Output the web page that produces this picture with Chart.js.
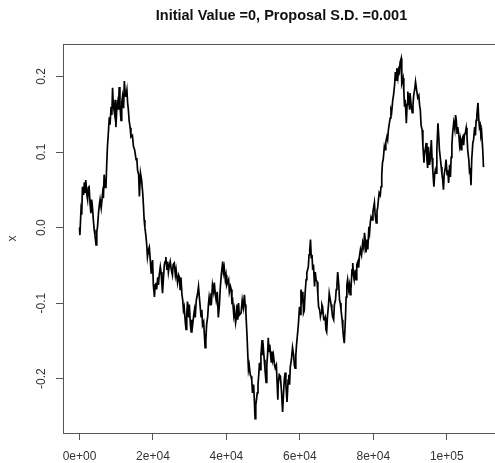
<!DOCTYPE html>
<html>
<head>
<meta charset="utf-8">
<script src="https://cdn.jsdelivr.net/npm/chart.js@4.4.1/dist/chart.umd.min.js"></script>
<style>
  html, body { margin: 0; padding: 0; background: #fff; overflow: hidden; }
  #wrap { width: 500px; height: 463px; }
</style>
</head>
<body>
<div id="wrap"><canvas id="traceChart" width="500" height="463"></canvas></div>
<script>
// trace of the sampler (iteration, value)
var iterations = [
  0,100,400,600,800,1100,1300,1500,1700,2000,2200,2400,2600,2900,3100,3300,3500,3800,4000,4200,4500,4700,4900,5200,5400,5600,5900,6300,6500,6700,7000,7200,7400,7600,7900,8100,8300,8600,8800,9000,9200,9500,9700,9900,10100,10400,10600,10800,11000,11300,11500,11700,12000,12200,12400,12600,12900,13100,13300,13500,13800,14000,14400,14700,15000,15400,15600,15800,16100,16300,16600,16900,17200,17400,17600,17800,18100,18300,18500,18800,19000,19300,19500,19700,19900,20100,
  20400,20600,20800,21000,21300,21500,21700,22000,22200,22400,22600,22900,23100,23300,23500,23800,24000,24200,24400,24700,25000,25300,25500,25800,26100,26300,26700,27000,27200,27400,27600,27900,28100,28300,28500,28800,29000,29200,29400,29700,29900,30200,30400,30600,30800,31100,31300,31500,31800,32100,32400,32700,33100,33300,33500,33800,34000,34200,34400,34600,34900,35100,35300,35600,35800,36000,36200,36500,36700,37000,37200,37500,37800,38100,38300,38600,39000,39200,39400,39700,39900,40100,40300,40600,40800,41100,41300,41500,41700,42000,42200,42500,42700,42900,43100,43300,43500,
  44000,44300,44600,44900,45100,45300,45600,45800,46000,46200,46500,46700,46900,47100,47400,47600,47800,48000,48400,48600,48800,49000,49200,49400,49700,49900,50100,50300,50500,50800,51000,51200,51400,51600,51800,52200,52400,52600,52800,53100,53300,53600,54000,54100,54400,54700,55000,55300,55600,55800,56000,56200,56500,56800,57000,57200,57400,57700,58000,58300,58500,58700,58900,59100,59400,59600,59900,60100,60300,60500,60800,61000,61200,61400,61700,61900,62100,62300,62500,62700,62900,63100,63300,63500,63700,64000,64200,64400,64700,64900,65100,
  65400,65600,65800,66000,66200,66500,66700,66900,67100,67300,67500,67800,68000,68200,68500,68700,68900,69200,69400,69700,69900,70100,70300,70600,70800,71000,71200,71500,71700,71900,72100,72400,72600,72800,73000,73300,73500,73700,73900,74200,74400,74600,74800,75100,75300,75500,75800,76000,76200,76500,76800,77100,77400,77600,77800,78000,78300,78500,78800,79000,79200,79400,79700,79900,80100,80300,80500,80800,81000,81200,81400,81600,81900,82100,82300,82500,82700,83000,83200,83400,83700,83900,84100,84300,84600,84800,85000,85300,85500,85800,86000,86200,86400,86700,86900,87100,
  87300,87600,87700,87800,88100,88300,88500,88700,89000,89200,89400,89600,89900,90000,90300,90600,90800,91000,91300,91500,91800,92100,92400,92600,92800,93000,93300,93500,93800,93900,94200,94400,94600,94800,95000,95300,95500,95800,96000,96200,96500,96700,96900,97100,97300,97600,97800,98000,98300,98500,98700,98900,99100,99300,99600,99800,100100,100300,100500,100800,101000,101200,101400,101600,101900,102200,102400,102600,102800,103000,103300,103500,103700,103900,104100,104400,104600,104800,105100,105300,105500,105700,106000,106200,106400,106600,106800,107100,107300,107600,107800,108000,108200,108500,108700,108900,109100,109300,109500,109800,110000
];
var xValues = [
  0,-0.010,0.023,0.017,0.054,0.043,0.060,0.047,0.063,0.043,0.037,0.053,0.054,0.030,0.019,0.037,0.028,0.008,-0.003,-0.010,-0.023,-0.006,0.001,0.021,0.030,0.037,0.026,0.046,0.039,0.070,0.053,0.054,0.083,0.107,0.129,0.146,0.136,0.160,0.149,0.185,0.162,0.152,0.169,0.133,0.153,0.165,0.156,0.186,0.162,0.142,0.165,0.173,0.158,0.194,0.180,0.173,0.182,0.165,0.156,0.142,0.132,0.120,0.122,0.107,0.103,0.090,0.092,0.076,0.070,0.041,0.072,0.063,0.046,0.030,0.010,0.000,-0.012,-0.023,-0.039,-0.029,-0.026,-0.045,-0.060,-0.049,-0.043,-0.076,
  -0.092,-0.076,-0.073,-0.082,-0.066,-0.076,-0.063,-0.052,-0.059,-0.073,-0.087,-0.063,-0.049,-0.045,-0.039,-0.056,-0.045,-0.059,-0.052,-0.045,-0.056,-0.063,-0.049,-0.047,-0.063,-0.056,-0.073,-0.063,-0.066,-0.082,-0.066,-0.089,-0.096,-0.109,-0.105,-0.125,-0.135,-0.116,-0.098,-0.119,-0.102,-0.129,-0.138,-0.122,-0.129,-0.116,-0.109,-0.119,-0.096,-0.089,-0.078,-0.096,-0.118,-0.109,-0.129,-0.125,-0.142,-0.159,-0.149,-0.129,-0.118,-0.102,-0.092,-0.102,-0.087,-0.093,-0.076,-0.085,-0.073,-0.089,-0.096,-0.085,-0.119,-0.102,-0.082,-0.063,-0.045,-0.059,-0.053,-0.069,-0.063,-0.076,-0.073,-0.069,-0.085,-0.078,-0.082,-0.098,-0.096,-0.116,-0.109,-0.126,-0.119,-0.102,-0.122,-0.100,-0.116,
  -0.113,-0.096,-0.106,-0.089,-0.102,-0.113,-0.142,-0.166,-0.188,-0.182,-0.195,-0.197,-0.202,-0.219,-0.208,-0.228,-0.253,-0.235,-0.219,-0.208,-0.195,-0.179,-0.188,-0.169,-0.149,-0.169,-0.162,-0.175,-0.188,-0.205,-0.182,-0.169,-0.146,-0.164,-0.155,-0.178,-0.164,-0.175,-0.169,-0.182,-0.186,-0.182,-0.228,-0.208,-0.195,-0.197,-0.217,-0.244,-0.215,-0.199,-0.192,-0.208,-0.231,-0.202,-0.195,-0.208,-0.184,-0.175,-0.159,-0.169,-0.182,-0.186,-0.169,-0.155,-0.139,-0.128,-0.105,-0.115,-0.082,-0.096,-0.085,-0.113,-0.110,-0.089,-0.069,-0.060,-0.056,-0.052,-0.036,-0.029,-0.016,-0.040,-0.036,-0.056,-0.049,-0.078,-0.059,-0.069,-0.072,-0.089,-0.105,
  -0.109,-0.118,-0.113,-0.102,-0.105,-0.122,-0.122,-0.119,-0.135,-0.138,-0.119,-0.102,-0.087,-0.087,-0.102,-0.109,-0.118,-0.122,-0.102,-0.096,-0.082,-0.076,-0.059,-0.076,-0.096,-0.100,-0.109,-0.122,-0.135,-0.146,-0.153,-0.122,-0.092,-0.076,-0.069,-0.082,-0.076,-0.089,-0.082,-0.056,-0.047,-0.063,-0.069,-0.056,-0.069,-0.049,-0.045,-0.053,-0.039,-0.029,-0.036,-0.020,-0.027,-0.007,-0.016,-0.033,-0.016,-0.029,0.001,-0.006,0.008,0.014,0.010,0.021,0.027,0.033,0.017,0.006,0.021,0.027,0.037,0.046,0.043,0.054,0.070,0.086,0.090,0.107,0.103,0.113,0.120,0.116,0.129,0.136,0.145,0.156,0.153,0.169,0.175,0.189,0.206,0.195,0.211,0.199,0.209,0.206,
  0.219,0.224,0.209,0.191,0.198,0.182,0.160,0.169,0.138,0.163,0.180,0.169,0.156,0.178,0.162,0.152,0.162,0.175,0.184,0.193,0.182,0.172,0.175,0.162,0.156,0.136,0.129,0.109,0.086,0.096,0.105,0.112,0.090,0.079,0.107,0.083,0.090,0.116,0.092,0.076,0.054,0.070,0.076,0.072,0.103,0.138,0.122,0.103,0.090,0.080,0.070,0.063,0.050,0.070,0.079,0.090,0.070,0.076,0.059,0.083,0.067,0.093,0.109,0.125,0.139,0.130,0.149,0.142,0.125,0.133,0.122,0.109,0.116,0.103,0.116,0.120,0.109,0.122,0.126,0.132,0.122,0.103,0.090,0.074,0.076,0.056,0.090,0.112,0.116,0.133,0.122,0.142,0.149,0.165,0.145,0.133,0.136,0.122,0.126,0.103,0.080
];

var xTicks = [0, 20000, 40000, 60000, 80000, 100000];
var xTickLabels = ['0e+00', '2e+04', '4e+04', '6e+04', '8e+04', '1e+05'];
var yTicks = [-0.2, -0.1, 0, 0.1, 0.2];
var yTickLabels = ['-0.2', '-0.1', '0.0', '0.1', '0.2'];
var titleText = 'Initial Value =0, Proposal S.D. =0.001';

var points = iterations.map(function(it, i){ return {x: it, y: xValues[i]}; });
var tickFont = {family: '"Liberation Sans", Arial, sans-serif', size: 12};

// R style title over the plot region and the box around it
var frame = {
    id: 'frame',
    afterDraw: function(c){
        var a = c.chartArea, g = c.ctx;
        g.save();
        g.strokeStyle = '#555';
        g.lineWidth = 1;
        g.strokeRect(a.left + 0.5, a.top + 0.5, a.right - a.left, a.bottom - a.top);
        g.fillStyle = '#111';
        g.font = 'bold 14.5px "Liberation Sans", Arial, sans-serif';
        g.textAlign = 'center';
        g.textBaseline = 'middle';
        g.fillText(titleText, (a.left + a.right) / 2, 16);
        g.restore();
    }
};

var ctx = document.getElementById('traceChart').getContext('2d');
var chart = new Chart(ctx, {
    type: 'line',
    data: {
        datasets: [{
            data: points,
            borderColor: '#000',
            borderWidth: 1.7,
            pointRadius: 0,
            tension: 0,
            fill: false
        }]
    },
    options: {
        responsive: false,
        animation: false,
        devicePixelRatio: 1,
        layout: {padding: {top: 44, left: 5, right: 0, bottom: 0}},
        plugins: {legend: {display: false}, tooltip: {enabled: false}},
        scales: {
            x: {
                type: 'linear',
                min: -4500,
                max: 114500,
                afterBuildTicks: function(s){ s.ticks = xTicks.map(function(v){ return {value: v}; }); },
                afterFit: function(s){ s.height = 30; },
                ticks: {
                    callback: function(v){ return xTickLabels[xTicks.indexOf(v)]; },
                    font: tickFont, color: '#333', padding: 9, maxRotation: 0, autoSkip: false
                },
                grid: {drawOnChartArea: false, drawTicks: true, tickLength: 7, color: '#555'},
                border: {display: false}
            },
            y: {
                min: -0.272,
                max: 0.243,
                afterBuildTicks: function(s){ s.ticks = yTicks.map(function(v){ return {value: v}; }); },
                afterFit: function(s){ s.width = 58; },
                ticks: {
                    callback: function(v){ return yTickLabels[yTicks.indexOf(v)]; },
                    font: tickFont, color: '#333', padding: 4,
                    minRotation: 90, maxRotation: 90, crossAlign: 'center', autoSkip: false
                },
                title: {display: true, text: 'x', font: tickFont, color: '#333', padding: 0},
                grid: {drawOnChartArea: false, drawTicks: true, tickLength: 7, color: '#555'},
                border: {display: false}
            }
        }
    },
    plugins: [frame]
});
</script>
</body>
</html>
